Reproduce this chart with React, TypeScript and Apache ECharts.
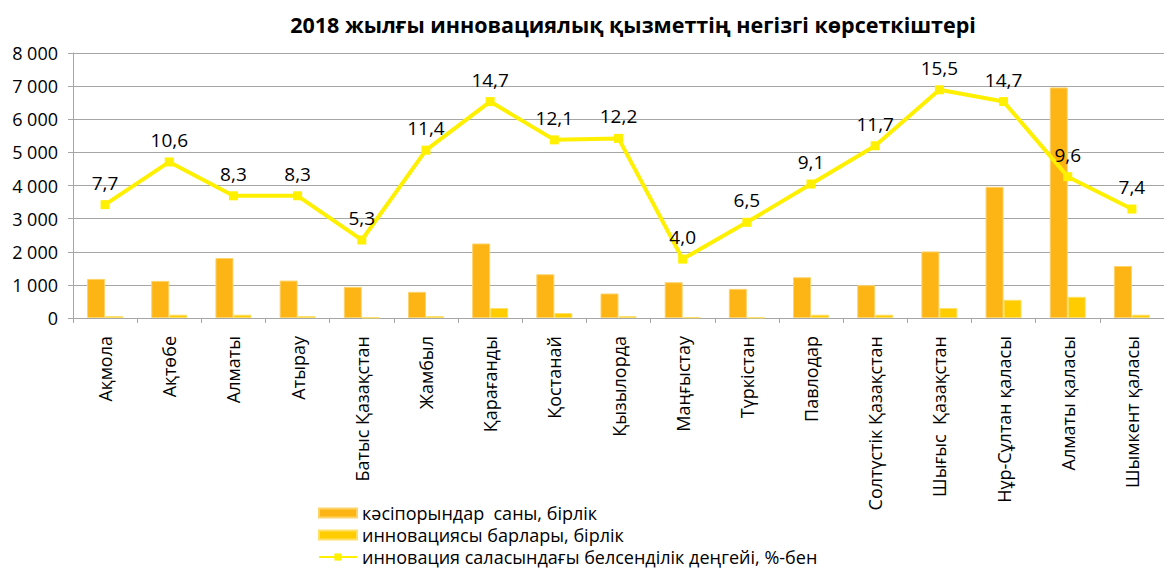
import React, { useEffect, useRef } from "react";
import * as echarts from "echarts";

const categories = [
  "Ақмола", "Ақтөбе", "Алматы", "Атырау", "Батыс Қазақстан", "Жамбыл",
  "Қарағанды", "Қостанай", "Қызылорда", "Маңғыстау", "Түркістан", "Павлодар",
  "Солтүстік Қазақстан", "Шығыс  Қазақстан", "Нұр-Сұлтан қаласы",
  "Алматы қаласы", "Шымкент қаласы",
];
const enterprises = [1180, 1120, 1810, 1130, 940, 790, 2250, 1320, 740, 1080, 880, 1230, 990, 2010, 3960, 6960, 1570];
const innovators = [60, 100, 100, 60, 15, 60, 300, 150, 60, 20, 15, 100, 100, 300, 550, 640, 100];
const activityLevel = [7.7, 10.6, 8.3, 8.3, 5.3, 11.4, 14.7, 12.1, 12.2, 4.0, 6.5, 9.1, 11.7, 15.5, 14.7, 9.6, 7.4];
const seriesNames = [
  "кәсіпорындар  саны, бірлік",
  "инновациясы барлары, бірлік",
  "инновация саласындағы белсенділік деңгейі, %-бен",
];
const title = "2018 жылғы инновациялық қызметтің негізгі көрсеткіштері";

const FONT = "'Open Sans', sans-serif";

export default function App() {
  const ref = useRef<HTMLDivElement>(null);
  useEffect(() => {
    if (!ref.current) return;
    const chart = echarts.init(ref.current, null, { renderer: "svg" });
    const legendBase = {
      orient: "vertical",
      left: 318,
      itemWidth: 38,
      itemHeight: 9,
      padding: 0,
      textStyle: { fontFamily: FONT, fontSize: 18, lineHeight: 20, color: "#000" },
    };
    chart.setOption({
      animation: false,
      backgroundColor: "#ffffff",
      textStyle: { fontFamily: FONT },
      title: {
        text: title,
        left: 628,
        textAlign: "center",
        top: 8,
        textStyle: { fontFamily: FONT, fontWeight: "bold", fontSize: 21.5, color: "#000" },
      },
      grid: { left: 73, top: 53, bottom: 252, right: -11 },
      legend: [
        { ...legendBase, top: 503, icon: "rect", data: [seriesNames[0]] },
        { ...legendBase, top: 525, icon: "rect", data: [seriesNames[1]] },
        { ...legendBase, top: 547, data: [seriesNames[2]] },
      ],
      xAxis: {
        type: "category",
        data: categories,
        axisLine: { lineStyle: { color: "#a6a6a6" } },
        axisTick: { show: true, length: 5, lineStyle: { color: "#a6a6a6" } },
        axisLabel: {
          rotate: 90,
          interval: 0,
          margin: 18,
          color: "#000",
          fontFamily: FONT,
          fontSize: 18,
        },
      },
      yAxis: [
        {
          type: "value",
          min: 0,
          max: 8000,
          interval: 1000,
          axisLine: { show: true, lineStyle: { color: "#a6a6a6" } },
          axisTick: { show: true, length: 5, lineStyle: { color: "#a6a6a6" } },
          splitLine: { lineStyle: { color: "#a6a6a6" } },
          axisLabel: {
            color: "#000",
            fontFamily: FONT,
            fontSize: 18,
            margin: 15,
            formatter: (v: number) => v.toString().replace(/\B(?=(\d{3})+(?!\d))/g, " "),
          },
        },
        { type: "value", min: 0, max: 18, show: false, splitLine: { show: false } },
      ],
      series: [
        {
          name: seriesNames[0],
          type: "bar",
          data: enterprises,
          barWidth: 18,
          barGap: "0%",
          itemStyle: { color: "#FDB515", borderColor: "#FDD36A", borderWidth: 1 },
        },
        {
          name: seriesNames[1],
          type: "bar",
          data: innovators,
          barWidth: 18,
          itemStyle: { color: "#FFCC00", borderColor: "#FFE066", borderWidth: 1 },
        },
        {
          name: seriesNames[2],
          type: "line",
          yAxisIndex: 1,
          data: activityLevel,
          symbol: "rect",
          symbolSize: 9,
          lineStyle: { color: "#FFF000", width: 4 },
          itemStyle: { color: "#FFF000" },
          label: {
            show: true,
            position: "top",
            distance: 8,
            color: "#000",
            fontFamily: FONT,
            fontSize: 19,
            formatter: (p: any) => p.value.toFixed(1).replace(".", ","),
          },
        },
      ],
    });
    return () => chart.dispose();
  }, []);
  return (
    <div
      ref={ref}
      style={{ position: "fixed", left: 0, top: 0, width: 1164, height: 570, overflow: "hidden" }}
    />
  );
}
